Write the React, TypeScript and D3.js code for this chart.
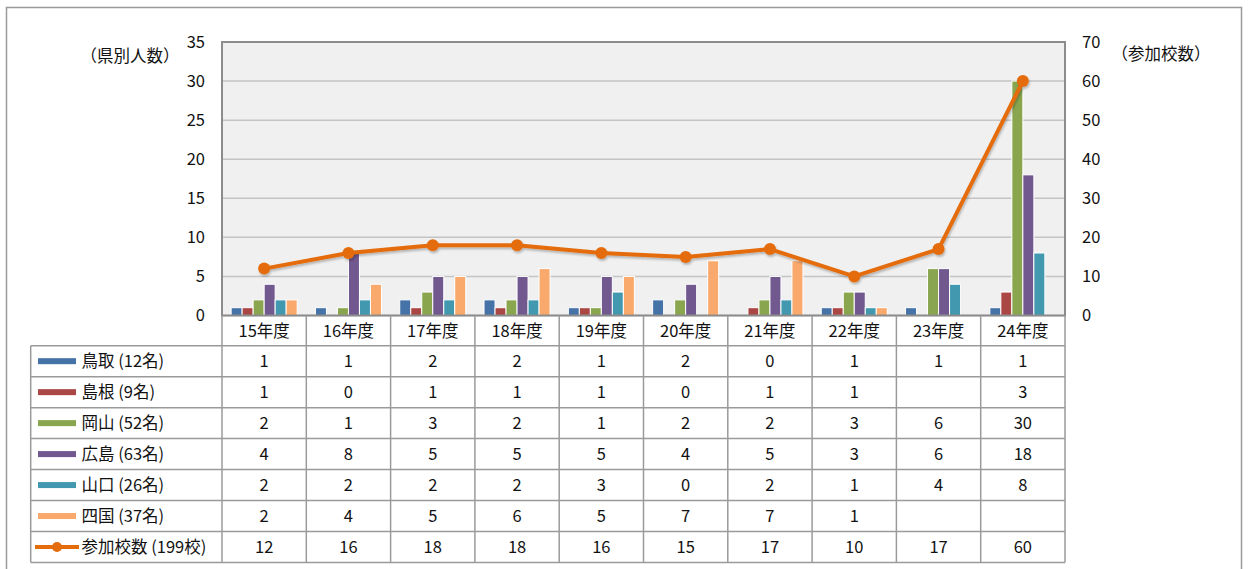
import React from "react";
import * as d3 from "d3";

const years = ["15年度", "16年度", "17年度", "18年度", "19年度", "20年度", "21年度", "22年度", "23年度", "24年度"];
const seriesNames = ["鳥取 (12名)", "島根 (9名)", "岡山 (52名)", "広島 (63名)", "山口 (26名)", "四国 (37名)"];
const tottori = [1, 1, 2, 2, 1, 2, 0, 1, 1, 1];
const shimane = [1, 0, 1, 1, 1, 0, 1, 1, null, 3];
const okayama = [2, 1, 3, 2, 1, 2, 2, 3, 6, 30];
const hiroshima = [4, 8, 5, 5, 5, 4, 5, 3, 6, 18];
const yamaguchi = [2, 2, 2, 2, 3, 0, 2, 1, 4, 8];
const shikoku = [2, 4, 5, 6, 5, 7, 7, 1, null, null];
const schoolsLabel = "参加校数 (199校)";
const schools = [12, 16, 18, 18, 16, 15, 17, 10, 17, 60];
const leftTicks = [0, 5, 10, 15, 20, 25, 30, 35];
const rightTicks = [0, 10, 20, 30, 40, 50, 60, 70];

const barSeries = [tottori, shimane, okayama, hiroshima, yamaguchi, shikoku];
const colors = ["#4572A7", "#AA4643", "#89A54E", "#71588F", "#4198AF", "#F9A96B"];
const lineColor = "#E46C0A";

const W = 1248;
const H = 569;
const plot = { left: 222, right: 1065, top: 42, bottom: 315.5 };
const rowTop = 345.7;
const rowH = 30.97;
const font = "'Noto Sans CJK JP', 'Noto Sans', sans-serif";
const fs = 16.5;

export default function App() {
  const x0 = d3.scaleBand<string>().domain(years).range([plot.left, plot.right]);
  const x1 = d3
    .scaleBand<number>()
    .domain(d3.range(seriesNames.length))
    .range([0, x0.bandwidth()])
    .paddingOuter(0.83);
  const y = d3.scaleLinear().domain([0, 35]).range([plot.bottom, plot.top]);
  const y2 = d3.scaleLinear().domain([0, 70]).range([plot.bottom, plot.top]);

  const line = d3
    .line<number>()
    .x((_, i) => x0(years[i])! + x0.bandwidth() / 2)
    .y((d) => y2(d));

  const rows = [...barSeries, schools];
  const rowLabels = [...seriesNames, schoolsLabel];
  const tableLeft = 30.7;
  const tableBottom = rowTop + rowH * rows.length;

  return (
    <svg
      width={W}
      height={H}
      style={{ position: "absolute", left: 0, top: 0, background: "#fff" }}
      fontFamily={font}
    >
      <defs>
        <filter id="shadow" x="-10%" y="-10%" width="120%" height="130%">
          <feDropShadow dx="1" dy="2" stdDeviation="1.2" floodColor="#000" floodOpacity="0.25" />
        </filter>
      </defs>
      {/* outer frame */}
      <rect x={6.5} y={7.5} width={1235} height={H} fill="#fff" stroke="#9a9a9a" strokeWidth={1.5} />

      {/* plot area */}
      <rect
        x={plot.left}
        y={plot.top}
        width={plot.right - plot.left}
        height={plot.bottom - plot.top}
        fill="#F0F0F0"
      />
      {leftTicks.map((t) => (
        <line
          key={t}
          x1={plot.left}
          x2={plot.right}
          y1={y(t)}
          y2={y(t)}
          stroke="#C4C4C4"
          strokeWidth={1.5}
        />
      ))}

      {/* bars */}
      {barSeries.map((vals, s) =>
        vals.map((v, i) =>
          v == null || v === 0 ? null : (
            <rect
              key={`${s}-${i}`}
              x={x0(years[i])! + x1(s)!}
              y={y(v)}
              width={x1.bandwidth()}
              height={plot.bottom - y(v)}
              fill={colors[s]}
              stroke="#fff"
              strokeWidth={1}
            />
          )
        )
      )}

      <rect
        x={plot.left}
        y={plot.top}
        width={plot.right - plot.left}
        height={plot.bottom - plot.top}
        fill="none"
        stroke="#8c8c8c"
        strokeWidth={2}
      />

      {/* line */}
      <g filter="url(#shadow)">
        <path d={line(schools) ?? ""} fill="none" stroke={lineColor} strokeWidth={4} strokeLinejoin="round" />
        {schools.map((v, i) => (
          <circle key={i} cx={x0(years[i])! + x0.bandwidth() / 2} cy={y2(v)} r={6} fill={lineColor} />
        ))}
      </g>

      {/* axes labels */}
      {leftTicks.map((t) => (
        <text key={t} x={205} y={y(t)} dy="0.35em" textAnchor="end" fontSize={fs} fill="#111">
          {t}
        </text>
      ))}
      {rightTicks.map((t) => (
        <text key={t} x={1082} y={y2(t)} dy="0.35em" textAnchor="start" fontSize={fs} fill="#111">
          {t}
        </text>
      ))}
      <text x={130} y={56} dy="0.35em" textAnchor="middle" fontSize={fs} fill="#111">
        （県別人数）
      </text>
      <text x={1161} y={54} dy="0.35em" textAnchor="middle" fontSize={fs} fill="#111">
        （参加校数）
      </text>

      {/* data table */}
      <g stroke="#9a9a9a" strokeWidth={1.5} fill="none">
        {years.map((yr, i) => (
          <line key={yr} x1={x0(yr)!} x2={x0(yr)!} y1={plot.bottom} y2={tableBottom} />
        ))}
        <line x1={plot.right} x2={plot.right} y1={plot.bottom} y2={tableBottom} />
        <line x1={tableLeft} x2={tableLeft} y1={rowTop} y2={tableBottom} />
        {d3.range(rows.length + 1).map((r) => (
          <line key={r} x1={tableLeft} x2={plot.right} y1={rowTop + r * rowH} y2={rowTop + r * rowH} />
        ))}
      </g>
      {years.map((yr) => (
        <text
          key={yr}
          x={x0(yr)! + x0.bandwidth() / 2}
          y={(plot.bottom + rowTop) / 2 + 1}
          dy="0.35em"
          textAnchor="middle"
          fontSize={fs}
          fill="#111"
        >
          {yr}
        </text>
      ))}
      {rows.map((vals, r) => {
        const cy = rowTop + r * rowH + rowH / 2;
        return (
          <g key={r}>
            {r < barSeries.length ? (
              <rect x={38} y={cy - 3} width={38} height={6} fill={colors[r]} />
            ) : (
              <g>
                <line x1={35} x2={79} y1={cy} y2={cy} stroke={lineColor} strokeWidth={4} />
                <circle cx={57} cy={cy} r={5} fill={lineColor} />
              </g>
            )}
            <text x={81.5} y={cy} dy="0.35em" fontSize={fs} fill="#111">
              {rowLabels[r]}
            </text>
            {vals.map((v, i) =>
              v == null ? null : (
                <text
                  key={i}
                  x={x0(years[i])! + x0.bandwidth() / 2}
                  y={cy}
                  dy="0.35em"
                  textAnchor="middle"
                  fontSize={fs}
                  fill="#111"
                >
                  {v}
                </text>
              )
            )}
          </g>
        );
      })}
    </svg>
  );
}
